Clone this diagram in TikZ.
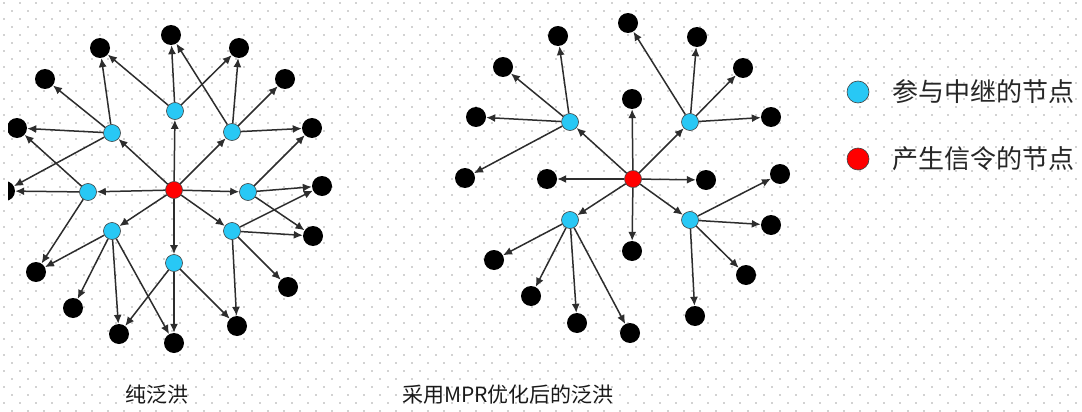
\documentclass[tikz,border=0pt]{standalone}
\usepackage{fontspec}
\newfontfamily\cjk{Noto Sans CJK SC}
\usetikzlibrary{arrows.meta}
\definecolor{relay}{RGB}{40,200,245}
\definecolor{dotc}{RGB}{165,165,165}
\definecolor{edgec}{RGB}{45,45,45}
\tikzset{
  blk/.style={circle,fill=black,draw=none,minimum size=20pt,inner sep=0pt},
  blu/.style={circle,fill=relay,draw=black!75,line width=0.6pt,minimum size=17pt,inner sep=0pt},
  src/.style={circle,fill=red,draw=black!75,line width=0.6pt,minimum size=17pt,inner sep=0pt},
  arr/.style={-{Latex[length=9pt,width=8pt]},draw=edgec,line width=1.5pt},
  legtext/.style={anchor=west,inner sep=0pt,text=black!85,font=\cjk\fontsize{26}{30}\selectfont},
  captext/.style={inner sep=0pt,text=black!90,font=\cjk\fontsize{21}{25}\selectfont}
}
\begin{document}
\begin{tikzpicture}[x=1pt,y=-1pt]
\useasboundingbox (0,0) rectangle (1082,412);
\fill[white] (0,0) rectangle (1082,412);
\foreach \j in {0,...,51}{
  \foreach \i in {0,...,67}{
    \fill[dotc] ({4+16*\i+8*mod(\j,2)},{3+8*\j}) circle[radius=0.85pt];
  }
}
% ---------- left graph: pure flooding ----------
\begin{scope}
\clip (8,0) rectangle (1082,412);
\node[src] (r) at (174,190) {};
\node[blu] (b1) at (175,111) {};
\node[blu] (b2) at (232,132) {};
\node[blu] (b3) at (112,133) {};
\node[blu] (b4) at (88,192) {};
\node[blu] (b5) at (248,192) {};
\node[blu] (b6) at (112,231) {};
\node[blu] (b7) at (232,231) {};
\node[blu] (b8) at (174,263) {};
\node[blk] (k1) at (100,48) {};
\node[blk] (k2) at (171,35) {};
\node[blk] (k3) at (239,48) {};
\node[blk] (k4) at (45,79) {};
\node[blk] (k5) at (285,79) {};
\node[blk] (k6) at (17,128) {};
\node[blk] (k7) at (312,128) {};
\node[blk] (k8) at (5,191) {};
\node[blk] (k9) at (322,186) {};
\node[blk] (k10) at (313,236) {};
\node[blk] (k11) at (36,272) {};
\node[blk] (k12) at (288,287) {};
\node[blk] (k13) at (73,308) {};
\node[blk] (k14) at (119,334) {};
\node[blk] (k15) at (237,326) {};
\node[blk] (k16) at (174,343) {};
\foreach \a/\b in {r/b1,r/b2,r/b3,r/b4,r/b5,r/b6,r/b7,r/b8,
  b1/k1,b1/k2,b1/k3,
  b2/k2,b2/k3,b2/k5,b2/k7,
  b3/k1,b3/k4,b3/k6,b3/k8,
  b4/k8,b4/k6,b4/k11,
  b5/k7,b5/k9,b5/k10,
  b6/k11,b6/k13,b6/k14,b6/k16,
  b7/k9,b7/k10,b7/k12,b7/k15,
  b8/k14,b8/k15,b8/k16}
  \draw[arr] (\a) -- (\b);
\end{scope}
% ---------- right graph: MPR flooding ----------
\node[src] (s) at (633,179) {};
\node[blu] (c1) at (570,122) {};
\node[blu] (c2) at (690,122) {};
\node[blu] (c3) at (570,220) {};
\node[blu] (c4) at (690,220) {};
\node[blk] (d1) at (558,36) {};
\node[blk] (d2) at (503,67) {};
\node[blk] (d3) at (476,117) {};
\node[blk] (d4) at (465,178) {};
\node[blk] (d5) at (547,179) {};
\node[blk] (d6) at (628,23) {};
\node[blk] (d7) at (632,99) {};
\node[blk] (d8) at (697,37) {};
\node[blk] (d9) at (743,68) {};
\node[blk] (d10) at (771,117) {};
\node[blk] (d11) at (780,174) {};
\node[blk] (d12) at (706,180) {};
\node[blk] (d13) at (771,225) {};
\node[blk] (d14) at (746,275) {};
\node[blk] (d15) at (632,251) {};
\node[blk] (d16) at (695,316) {};
\node[blk] (d17) at (630,333) {};
\node[blk] (d18) at (494,260) {};
\node[blk] (d19) at (531,296) {};
\node[blk] (d20) at (577,323) {};
\foreach \a/\b in {s/c1,s/c2,s/c3,s/c4,s/d7,s/d5,s/d12,s/d15,
  c1/d1,c1/d2,c1/d3,c1/d4,
  c2/d6,c2/d8,c2/d9,c2/d10,
  c3/d18,c3/d19,c3/d20,c3/d17,
  c4/d11,c4/d13,c4/d14,c4/d16}
  \draw[arr] (\a) -- (\b);
% ---------- legend ----------
\node[blu,minimum size=22pt] (lb) at (858,92) {};
\node[legtext] (lbt) at (892,92) {参与中继的节点};
\node[src,minimum size=22pt] (lr) at (858,159) {};
\node[legtext] (lrt) at (892,159) {产生信令的节点};
% ---------- captions ----------
\node[captext] (cap1) at (157,395) {纯泛洪};
\node[captext] (cap2) at (508,395) {采用MPR优化后的泛洪};
\end{tikzpicture}
\end{document}
